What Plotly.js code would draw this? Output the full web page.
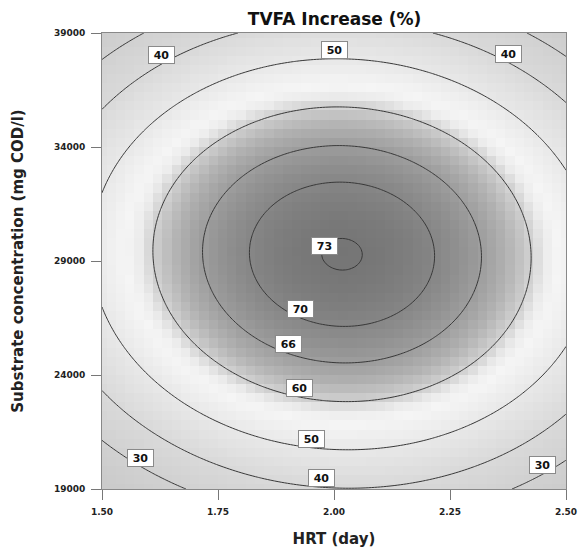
<!DOCTYPE html>
<html><head><meta charset="utf-8">
<script src="https://cdn.plot.ly/plotly-3.0.1.min.js"></script>
<style>html,body{margin:0;padding:0;background:#fff}</style>
</head><body><div id="chart" style="width:578px;height:554px"></div>
<script>
// Axes
const hrtRange = [1.5, 2.5];
const substrateRange = [19000, 39000];
const hrtTicks = [1.5, 1.75, 2.0, 2.25, 2.5];
const hrtTickLabels = ['1.50', '1.75', '2.00', '2.25', '2.50'];
const substrateTicks = [19000, 24000, 29000, 34000, 39000];
const substrateTickLabels = ['19000', '24000', '29000', '34000', '39000'];
// Quadratic response-surface model (coded A = HRT, B = substrate), estimated from the drawn contours
const modelTerms = ['Intercept', 'A', 'B', 'AB', 'A^2', 'B^2'];
const modelCoefs = [73.1, 1.4, 1.9, -1.16, -19.8, -31.5];
// Contour levels and their labels
const contourLevels = [30, 40, 50, 60, 66, 70, 73];
const labelLevels = [40, 50, 40, 73, 70, 66, 60, 50, 40, 30, 30];
const labelHRT = [1.629, 2.0, 2.376, 1.98, 1.927, 1.901, 1.925, 1.951, 1.974, 1.584, 2.449];
const labelBranch = ['upper', 'upper', 'upper', 'upper', 'lower', 'lower', 'lower', 'lower', 'lower', 'lower', 'lower'];
const labelShiftPx = [9, 9, 9, 0, 9, 9, 9, 9, 9, 9, 9];

const hrtCenter = (hrtRange[0] + hrtRange[1]) / 2, hrtHalf = (hrtRange[1] - hrtRange[0]) / 2;
const subCenter = (substrateRange[0] + substrateRange[1]) / 2, subHalf = (substrateRange[1] - substrateRange[0]) / 2;
const [c0, cA, cB, cAB, cAA, cBB] = modelCoefs;
function model(h, s) {
  const A = (h - hrtCenter) / hrtHalf, B = (s - subCenter) / subHalf;
  return c0 + cA * A + cB * B + cAB * A * B + cAA * A * A + cBB * B * B;
}
function grid(n) {
  const xs = [], ys = [], z = [];
  for (let i = 0; i < n; i++) xs.push(hrtRange[0] + (hrtRange[1] - hrtRange[0]) * i / (n - 1));
  for (let j = 0; j < n; j++) ys.push(substrateRange[0] + (substrateRange[1] - substrateRange[0]) * j / (n - 1));
  for (let j = 0; j < n; j++) z.push(xs.map(x => model(x, ys[j])));
  return {xs, ys, z};
}
function solveSubstrate(h, level, branch) {
  const A = (h - hrtCenter) / hrtHalf;
  const a = cBB, b = cB + cAB * A, c = c0 + cA * A + cAA * A * A - level;
  const d = Math.sqrt(Math.max(0, b * b - 4 * a * c));
  const r1 = (-b + d) / (2 * a), r2 = (-b - d) / (2 * a);
  const B = branch === 'upper' ? Math.max(r1, r2) : Math.min(r1, r2);
  return subCenter + B * subHalf;
}

const coarse = grid(51);
const fine = grid(161);
const zmin = 20, zmax = 74;
const stops = [[20, '#cbcbcb'], [30, '#d1d1d1'], [40, '#d9d9d9'], [50, '#e8e8e8'], [56, '#f5f5f5'],
  [58, '#ececec'], [60, '#d0d0d0'], [63, '#b3b3b3'], [66, '#9d9d9d'], [70, '#868686'], [74, '#717171']];
const colorscale = stops.map(s => [(s[0] - zmin) / (zmax - zmin), s[1]]);

const traces = [{
  type: 'heatmap', x: coarse.xs, y: coarse.ys, z: coarse.z, zmin, zmax,
  colorscale, showscale: false, hoverinfo: 'skip', zsmooth: false
}];
contourLevels.forEach(L => traces.push({
  type: 'contour', x: fine.xs, y: fine.ys, z: fine.z, showscale: false, hoverinfo: 'skip',
  autocontour: false, contours: {start: L, end: L, size: 1, coloring: 'none'},
  line: {color: '#383838', width: 1, smoothing: 1}
}));

const labelFont = {family: 'DejaVu Sans, sans-serif', size: 11, color: '#111', weight: 'bold'};
const annotations = labelLevels.map((L, i) => ({
  x: labelHRT[i], y: solveSubstrate(labelHRT[i], L, labelBranch[i]), xref: 'x', yref: 'y', yshift: labelShiftPx[i],
  text: String(L), showarrow: false, bgcolor: '#ffffff', bordercolor: '#8a8a8a', borderwidth: 1, borderpad: 1,
  width: 23, height: 14, font: labelFont
}));

const tickFont = {family: 'DejaVu Sans, sans-serif', size: 9, color: '#222', weight: 'bold'};
const titleFont = {family: 'DejaVu Sans, sans-serif', size: 15, color: '#222', weight: 'bold'};
const layout = {
  width: 578, height: 554,
  margin: {l: 102, r: 12, t: 33, b: 65},
  paper_bgcolor: '#fff', plot_bgcolor: '#fff',
  title: {text: 'TVFA Increase (%)', x: 0.5789, xanchor: 'center', y: 0.965, yanchor: 'middle', yref: 'container',
    font: {family: 'DejaVu Sans, sans-serif', size: 17, color: '#111', weight: 'bold'}},
  xaxis: {range: hrtRange, tickvals: hrtTicks, ticktext: hrtTickLabels, ticks: 'outside', ticklen: 10,
    tickcolor: '#777', tickfont: tickFont, showline: true, mirror: true, linecolor: '#888', linewidth: 1,
    showgrid: false, zeroline: false, ticklabelstandoff: 4, ticklabeloverflow: 'allow',
    title: {text: 'HRT (day)', font: titleFont, standoff: 17}},
  yaxis: {range: substrateRange, tickvals: substrateTicks, ticktext: substrateTickLabels, ticks: 'outside', ticklen: 10,
    tickcolor: '#777', tickfont: tickFont, showline: true, mirror: true, linecolor: '#888', linewidth: 1,
    showgrid: false, zeroline: false, ticklabelstandoff: 4, ticklabeloverflow: 'allow',
    title: {text: 'Substrate concentration (mg COD/l)', font: titleFont, standoff: 26}},
  annotations, showlegend: false
};
Plotly.newPlot('chart', traces, layout, {displayModeBar: false, staticPlot: true});
</script>
</body></html>
